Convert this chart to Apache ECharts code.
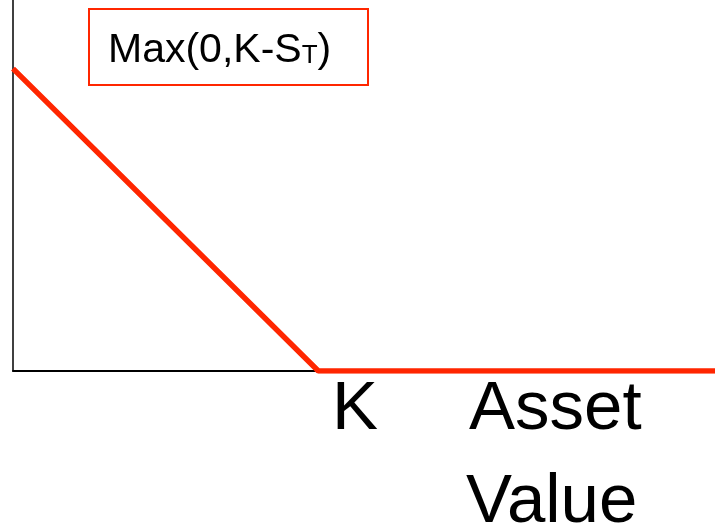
<!DOCTYPE html>
<html>
<head>
<meta charset="utf-8">
<script src="https://cdn.jsdelivr.net/npm/echarts@6/dist/echarts.min.js"></script>
<style>
  html, body { margin: 0; padding: 0; background: #fff; }
  #put-payoff { width: 715px; height: 527px; }
</style>
</head>
<body>
<div id="put-payoff"></div>
<script>
// payoff of a long put at expiry, schematic units
const assetValues = [0, 4.35, 10]
const payoffValues = [8.15, 0, 0]
const axisMax = [10, 10]

const chart = echarts.init(document.getElementById('put-payoff'))
chart.setOption({
  animation: false,
  grid: {
    left: 13,
    top: 0,
    right: 0,
    bottom: 156
  },
  xAxis: {
    type: 'value',
    min: 0,
    max: axisMax[0],
    axisLine: { show: true, lineStyle: { color: '#000', width: 2 } },
    axisTick: { show: false },
    axisLabel: { show: false },
    splitLine: { show: false }
  },
  yAxis: {
    type: 'value',
    min: 0,
    max: axisMax[1],
    axisLine: { show: true, lineStyle: { color: '#000', width: 1.5 } },
    axisTick: { show: false },
    axisLabel: { show: false },
    splitLine: { show: false }
  },
  series: [{
    type: 'line',
    data: assetValues.map((s, i) => [s, payoffValues[i]]),
    symbol: 'none',
    lineStyle: {
      color: '#ff2600',
      width: 5.5
    }
  }],
  graphic: [{
    type: 'rect',
    left: 88,
    top: 8,
    shape: { width: 279, height: 76 },
    style: { fill: '#fff', stroke: '#ff2600', lineWidth: 2 }
  }, {
    type: 'text',
    left: 108,
    top: 30,
    style: {
      text: '{a|Max(0,K-S}{b|T}{a|)}',
      rich: {
        a: { fontFamily: 'Liberation Sans', fontSize: 41, fill: '#000', lineHeight: 48 },
        b: { fontFamily: 'Liberation Sans', fontSize: 26, fill: '#000', lineHeight: 48, verticalAlign: 'bottom', padding: [0, 0, 6, 0] }
      }
    }
  }, {
    type: 'text',
    left: 332,
    top: 375,
    style: { text: 'K', fontFamily: 'Liberation Sans', fontSize: 69, fill: '#000' }
  }, {
    type: 'text',
    left: 469,
    top: 375,
    style: { text: 'Asset', fontFamily: 'Liberation Sans', fontSize: 69, fill: '#000' }
  }, {
    type: 'text',
    left: 466,
    top: 468,
    style: { text: 'Value', fontFamily: 'Liberation Sans', fontSize: 69, fill: '#000' }
  }]
})
</script>
</body>
</html>
